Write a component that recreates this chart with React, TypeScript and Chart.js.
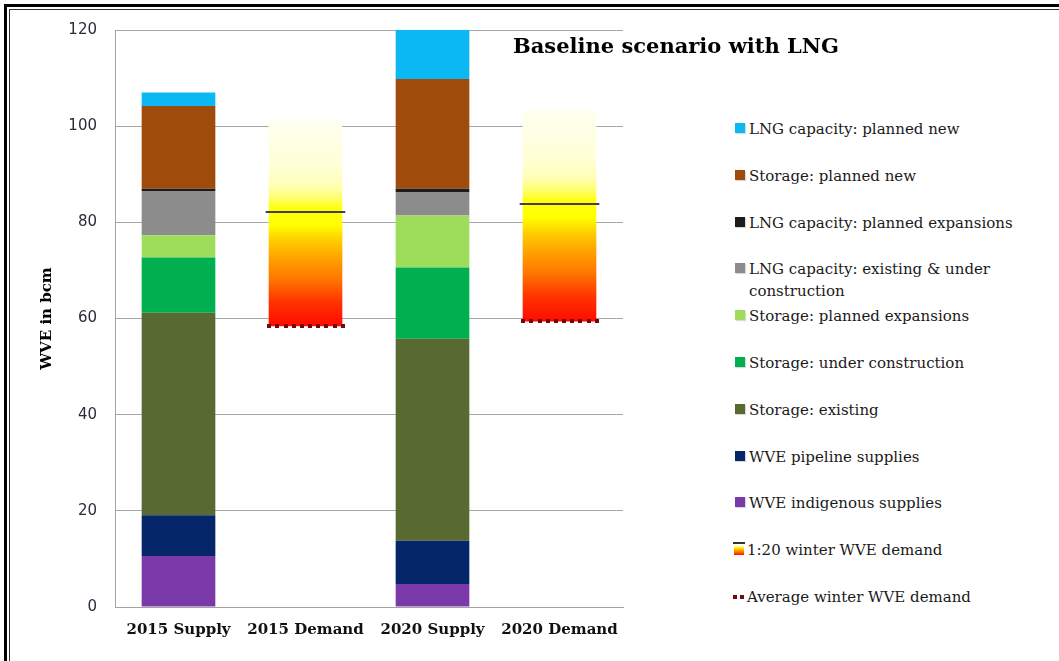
import React, { useEffect, useRef } from "react";
import { Chart, registerables } from "chart.js";

Chart.register(...registerables);

// Categories and axis ticks
const categories = ["2015 Supply", "2015 Demand", "2020 Supply", "2020 Demand"];
const yTicks = [0, 20, 40, 60, 80, 100, 120];

// Supply components (bcm), stacked from the bottom up
const indigenousSupplies = [10.6, null, 4.8, null];
const pipelineSupplies = [8.5, null, 9.0, null];
const storageExisting = [42.1, null, 42.0, null];
const storageUnderConstruction = [11.5, null, 14.8, null];
const storagePlannedExpansions = [4.6, null, 10.8, null];
const lngExistingUnderConstruction = [9.2, null, 4.8, null];
const lngPlannedExpansions = [0.5, null, 0.8, null];
const storagePlannedNew = [17.2, null, 22.8, null];
const lngPlannedNew = [2.8, null, 10.2, null];

// Demand (bcm)
const averageWinterDemand = [null, 58.4, null, 59.4];
const winter1in20Demand = [null, 82.1, null, 83.9];
const demandRangeTop = [null, 101.5, null, 103.5];

const COLORS = {
  lngNew: "#0CB8F4",
  storageNew: "#9E4B0C",
  lngExp: "#1C1C1C",
  lngExisting: "#8C8C8C",
  storageExp: "#9EDC5C",
  storageUC: "#00B050",
  storageExisting: "#586A31",
  pipeline: "#06266A",
  indigenous: "#7B39AA",
  avgDots: "#6E0C0C",
  line1in20: "rgba(45,45,45,0.9)",
};

const SERIF = "'DejaVu Serif', 'Liberation Serif', serif";
const SANS = "'DejaVu Sans', 'Noto Sans', sans-serif";

// Fill stops for the demand range: red at the average demand, fading to pale cream at the top
const DEMAND_STOPS: [number, string][] = [
  [0, "#FF0A00"],
  [0.12, "#FF3500"],
  [0.23, "#FF7800"],
  [0.33, "#FFA200"],
  [0.42, "#FFD000"],
  [0.49, "#FFFF00"],
  [0.57, "#FFFF10"],
  [0.62, "#FFFF70"],
  [0.68, "#FFFFB8"],
  [0.78, "#FFFFD8"],
  [1, "#FFFFF2"],
];

function demandFill(ctx: any) {
  const chart = ctx.chart;
  const i = ctx.dataIndex;
  if (!chart.chartArea || demandRangeTop[i] == null) return "rgba(0,0,0,0)";
  const y = chart.scales.y;
  const y0 = y.getPixelForValue(averageWinterDemand[i] as number);
  const y1 = y.getPixelForValue(demandRangeTop[i] as number);
  const g = chart.ctx.createLinearGradient(0, y0, 0, y1);
  DEMAND_STOPS.forEach(([f, c]) => g.addColorStop(f, c));
  return g;
}

const DEMAND_DATASET = 9;

// Draws the 1:20 winter demand line and the dotted average winter demand line on each demand bar
const demandMarkers = {
  id: "demandMarkers",
  afterDatasetsDraw(chart: any) {
    const meta = chart.getDatasetMeta(DEMAND_DATASET);
    const y = chart.scales.y;
    const c = chart.ctx;
    meta.data.forEach((bar: any, i: number) => {
      if (winter1in20Demand[i] == null || averageWinterDemand[i] == null) return;
      const { x, width } = bar.getProps(["x", "width"], true);
      const left = x - width / 2;
      const right = x + width / 2;
      c.save();
      const yl = Math.round(y.getPixelForValue(winter1in20Demand[i] as number));
      c.strokeStyle = COLORS.line1in20;
      c.lineWidth = 2;
      c.beginPath();
      c.moveTo(left - 3, yl);
      c.lineTo(right + 3, yl);
      c.stroke();

      const ya = Math.round(y.getPixelForValue(averageWinterDemand[i] as number));
      c.fillStyle = COLORS.avgDots;
      const n = 10;
      const start = left - 1.5;
      const step = width / (n - 1);
      for (let k = 0; k < n; k++) {
        c.fillRect(Math.round(start + k * step), ya - 2, 4, 4);
      }
      c.restore();
    });
  },
};

const legendItems = [
  { label: "LNG capacity: planned new", kind: "box", color: COLORS.lngNew },
  { label: "Storage: planned new", kind: "box", color: COLORS.storageNew },
  { label: "LNG capacity: planned expansions", kind: "box", color: COLORS.lngExp },
  { label: "LNG capacity: existing & under construction", kind: "box", color: COLORS.lngExisting },
  { label: "Storage: planned expansions", kind: "box", color: COLORS.storageExp },
  { label: "Storage: under construction", kind: "box", color: COLORS.storageUC },
  { label: "Storage: existing", kind: "box", color: COLORS.storageExisting },
  { label: "WVE pipeline supplies", kind: "box", color: COLORS.pipeline },
  { label: "WVE indigenous supplies", kind: "box", color: COLORS.indigenous },
  { label: "1:20 winter WVE demand", kind: "gradient", color: "" },
  { label: "Average winter WVE demand", kind: "dots", color: COLORS.avgDots },
];

function LegendMarker({ kind, color }: { kind: string; color: string }) {
  if (kind === "box") {
    return (
      <div
        style={{
          position: "absolute",
          left: 0,
          top: 5,
          width: 10,
          height: 10,
          background: color,
          boxShadow: "1px 1px 1px rgba(0,0,0,0.15)",
        }}
      />
    );
  }
  if (kind === "gradient") {
    return (
      <div style={{ position: "absolute", left: -2, top: 3, width: 12, height: 13 }}>
        <div style={{ position: "absolute", left: 0, top: 0, width: 12, height: 2, background: "#333" }} />
        <div
          style={{
            position: "absolute",
            left: 1,
            top: 4,
            width: 10,
            height: 9,
            background: "linear-gradient(to top, #FF1000, #FF9000 45%, #FFF000 80%, #FFFFB0)",
          }}
        />
      </div>
    );
  }
  return (
    <div style={{ position: "absolute", left: -2, top: 9, width: 12, height: 4 }}>
      <div style={{ position: "absolute", left: 0, top: 0, width: 4, height: 4, background: color }} />
      <div style={{ position: "absolute", left: 7, top: 0, width: 4, height: 4, background: color }} />
    </div>
  );
}

export default function App() {
  const canvasRef = useRef<HTMLCanvasElement | null>(null);

  useEffect(() => {
    const canvas = canvasRef.current;
    if (!canvas) return;
    const supply = (label: string, data: (number | null)[], color: string) => ({
      label,
      data,
      backgroundColor: color,
      borderWidth: 0,
    });
    const chart = new Chart(canvas, {
      type: "bar",
      data: {
        labels: categories,
        datasets: [
          supply("WVE indigenous supplies", indigenousSupplies, COLORS.indigenous),
          supply("WVE pipeline supplies", pipelineSupplies, COLORS.pipeline),
          supply("Storage: existing", storageExisting, COLORS.storageExisting),
          supply("Storage: under construction", storageUnderConstruction, COLORS.storageUC),
          supply("Storage: planned expansions", storagePlannedExpansions, COLORS.storageExp),
          supply("LNG capacity: existing & under construction", lngExistingUnderConstruction, COLORS.lngExisting),
          supply("LNG capacity: planned expansions", lngPlannedExpansions, COLORS.lngExp),
          supply("Storage: planned new", storagePlannedNew, COLORS.storageNew),
          supply("LNG capacity: planned new", lngPlannedNew, COLORS.lngNew),
          {
            label: "1:20 winter WVE demand",
            data: averageWinterDemand.map((lo, i) =>
              lo == null || demandRangeTop[i] == null ? null : [lo, demandRangeTop[i] as number]
            ) as any,
            backgroundColor: demandFill as any,
            borderWidth: 0,
          },
        ],
      },
      options: {
        responsive: false,
        animation: false,
        devicePixelRatio: 1,
        categoryPercentage: 1,
        barPercentage: 0.58,
        layout: { padding: { top: 30, right: 17, left: 0, bottom: 0 } },
        plugins: {
          legend: { display: false },
          tooltip: { enabled: false },
          title: { display: false },
        },
        scales: {
          x: {
            stacked: true,
            grid: { display: false, drawTicks: false },
            border: { display: true, color: "#A3A3A3", width: 1 },
            ticks: {
              padding: 14,
              color: "#111",
              font: { family: SERIF, weight: "bold", size: 15 },
              maxRotation: 0,
            },
            afterFit: (s: any) => {
              s.height = 54;
            },
          },
          y: {
            stacked: true,
            min: 0,
            max: 120,
            afterBuildTicks: (s: any) => {
              s.ticks = yTicks.map((v) => ({ value: v }));
            },
            grid: { color: "#A6A6A6", lineWidth: 1, drawTicks: false },
            border: { display: true, color: "#A3A3A3", width: 1 },
            ticks: {
              padding: 18,
              color: "#2b2b3a",
              font: { family: SANS, size: 15 },
            },
            title: {
              display: true,
              text: "WVE in bcm",
              color: "#000",
              font: { family: SERIF, weight: "bold", size: 15 },
              padding: { top: 38, bottom: 0 },
            },
            afterFit: (s: any) => {
              s.width = 115;
            },
          },
        },
      },
      plugins: [demandMarkers],
    });
    return () => chart.destroy();
  }, []);

  const rowStep = 46.8;

  return (
    <div
      style={{
        position: "fixed",
        left: 0,
        top: 0,
        width: 1059,
        height: 661,
        overflow: "hidden",
        background: "#fff",
      }}
    >
      <div
        style={{
          position: "absolute",
          left: 4,
          top: 4,
          width: 1200,
          height: 800,
          borderTop: "3px solid #000",
          borderLeft: "3px solid #000",
        }}
      />
      <div
        style={{
          position: "absolute",
          left: 9,
          top: 9,
          width: 1200,
          height: 800,
          borderTop: "1px solid #333",
          borderLeft: "1px solid #333",
        }}
      />
      <canvas
        ref={canvasRef}
        width={640}
        height={661}
        style={{ position: "absolute", left: 0, top: 0, width: 640, height: 661 }}
      />
      <div
        style={{
          position: "absolute",
          left: 513,
          top: 33,
          fontFamily: SERIF,
          fontWeight: "bold",
          fontSize: 21,
          color: "#000",
          whiteSpace: "nowrap",
        }}
      >
        Baseline scenario with LNG
      </div>
      {legendItems.map((item, i) => (
        <div
          key={item.label}
          style={{
            position: "absolute",
            left: 735,
            top: Math.round(118 + i * rowStep),
            width: 310,
          }}
        >
          <LegendMarker kind={item.kind} color={item.color} />
          <div
            style={{
              marginLeft: item.kind === "box" ? 14 : 12,
              width: 275,
              fontFamily: SERIF,
              fontSize: 15,
              lineHeight: "22px",
              color: "#1a1a1a",
            }}
          >
            {item.label}
          </div>
        </div>
      ))}
    </div>
  );
}
